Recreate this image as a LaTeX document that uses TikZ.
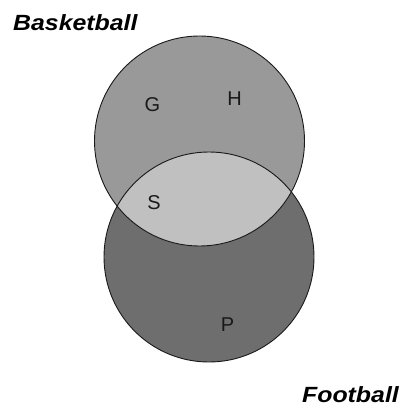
\documentclass[tikz,border=0pt]{standalone}
\usepackage{fontspec}
\usepackage{graphicx}
\setmainfont{Liberation Sans}
\definecolor{topgray}{RGB}{153,153,153}
\definecolor{botgray}{RGB}{110,110,110}
\definecolor{lensgray}{RGB}{192,192,192}
\definecolor{inkgray}{RGB}{25,25,25}
\begin{document}
\begin{tikzpicture}[x=1pt,y=-1pt,
  outline/.style={draw=inkgray,line width=0.9pt},
  setname/.style={inner sep=0pt,font=\fontsize{22}{26}\selectfont\bfseries\itshape,text=black},
  member/.style={inner sep=0pt,font=\fontsize{20}{24}\selectfont,text=inkgray}]
\useasboundingbox (0,0) rectangle (404,409);
\coordinate (ctop) at (199.5,141);
\coordinate (cbot) at (209,257);
\fill[topgray] (ctop) circle (105pt);
\fill[botgray] (cbot) circle (105pt);
\begin{scope}
  \clip (ctop) circle (105pt);
  \fill[lensgray] (cbot) circle (105pt);
\end{scope}
\draw[outline] (ctop) circle (105pt);
\draw[outline] (cbot) circle (105pt);
\node[setname,anchor=base west] (bb) at (13,31) {\scalebox{1.13}[1]{Basketball}};
\node[setname,anchor=base east] (fb) at (399,402) {\scalebox{1.13}[1]{Football}};
\node[member] (g) at (152.5,105) {G};
\node[member] (h) at (234.5,99) {H};
\node[member] (s) at (154,203) {S};
\node[member] (p) at (227.5,325) {P};
\end{tikzpicture}
\end{document}
